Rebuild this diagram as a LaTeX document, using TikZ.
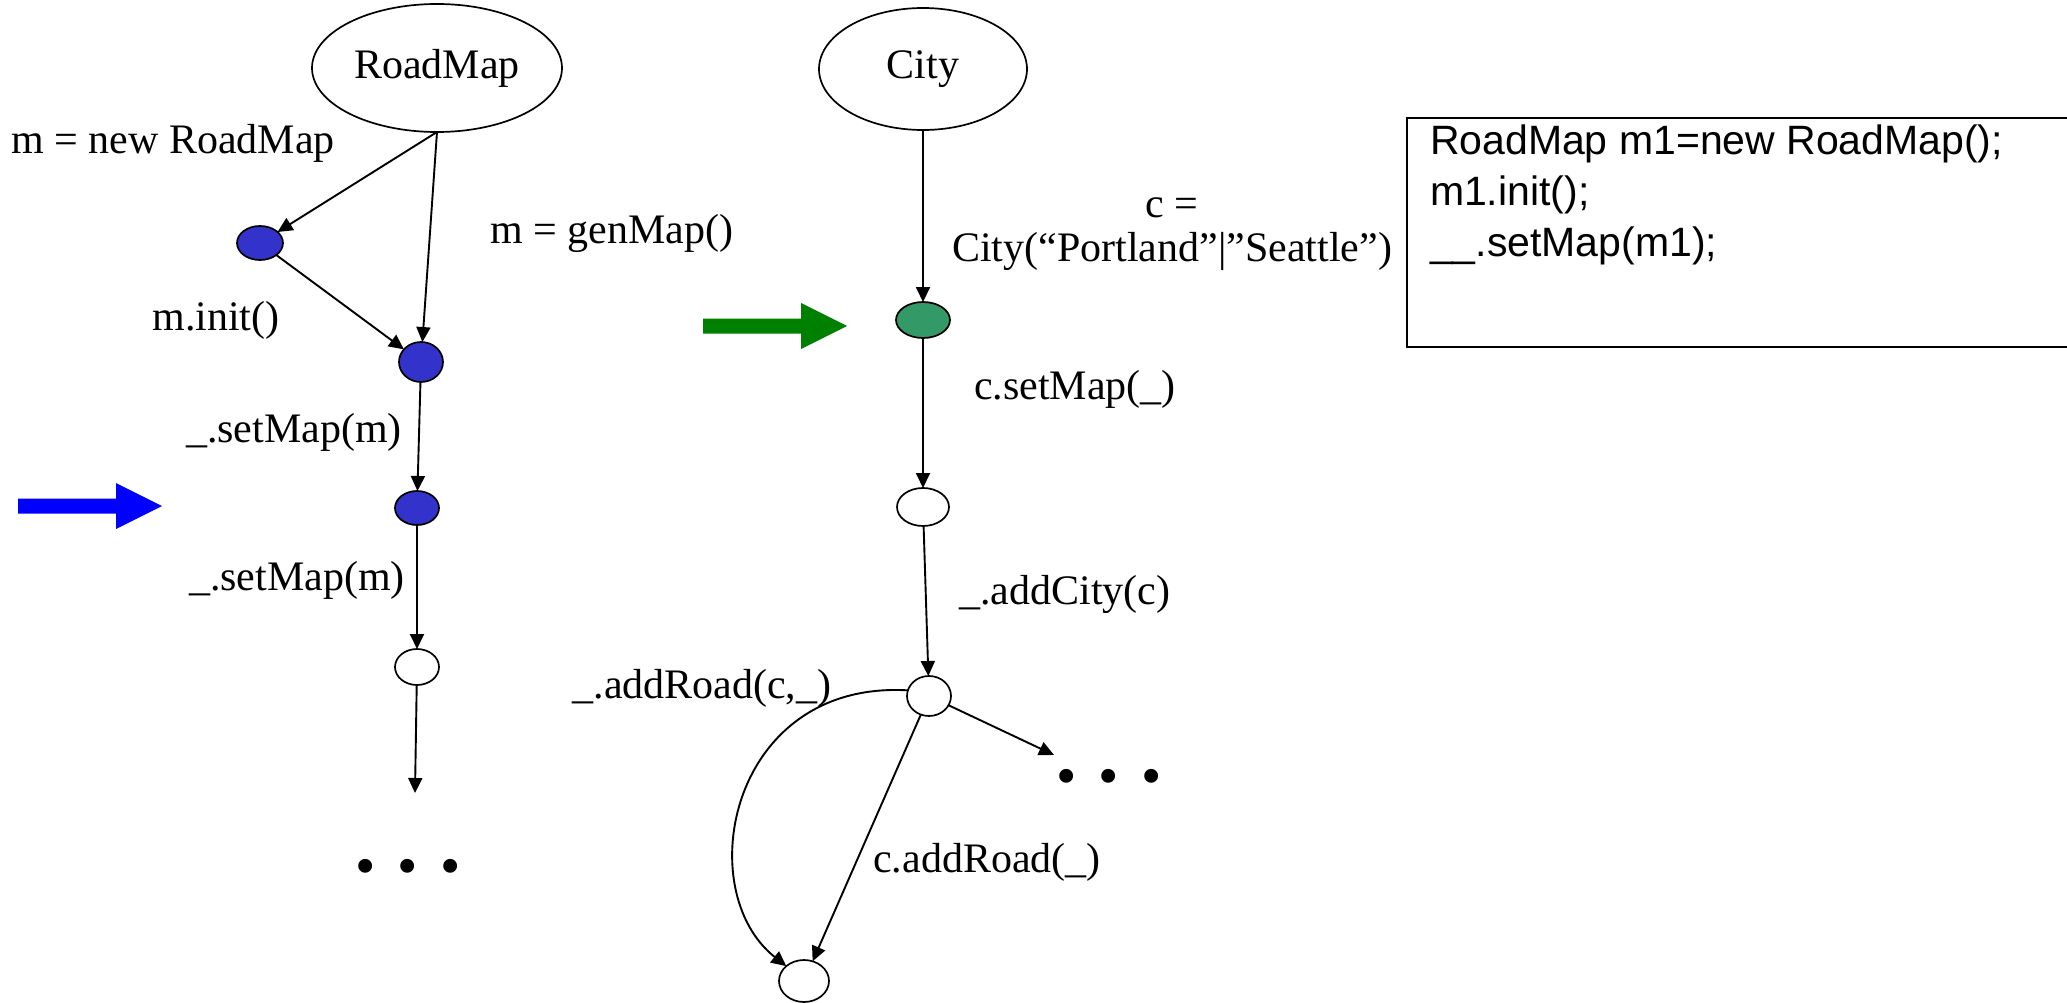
\documentclass[tikz,border=0pt]{standalone}
\usepackage{fontspec}
\setmainfont{Liberation Serif}
\setsansfont{Liberation Sans}
\usetikzlibrary{shapes.geometric,arrows.meta}
\definecolor{nodeblue}{RGB}{51,51,204}
\definecolor{nodegreen}{RGB}{51,153,102}
\definecolor{arrblue}{RGB}{0,0,255}
\definecolor{arrgreen}{RGB}{0,128,0}
\begin{document}
\begin{tikzpicture}[x=1pt,y=-1pt,
  every node/.style={inner sep=0pt, outer sep=0pt},
  lbl/.style={font=\fontsize{42}{45}\selectfont},
  dots/.style={font=\fontsize{58}{60}\selectfont},
  cls/.style={ellipse, draw, line width=1.7pt, font=\fontsize{42}{45}\selectfont},
  st/.style={ellipse, draw, line width=1.7pt},
  edge/.style={line width=1.9pt, -{Triangle[length=15pt,width=14pt]}},
  codebox/.style={draw, line width=1.8pt}
]
\useasboundingbox (0,0) rectangle (2067,1003);
\fill[white] (0,0) rectangle (2067,1003);
% class ellipses
\node[cls, minimum width=250pt, minimum height=128pt] (rm) at (437,68) {\raisebox{-4pt}{RoadMap}};
\node[cls, minimum width=208pt, minimum height=122pt] (city) at (923,69) {\raisebox{-3pt}{City}};
% RoadMap states
\node[st, fill=nodeblue, minimum width=46pt, minimum height=34pt] (n1) at (260,243) {};
\node[st, fill=nodeblue, minimum width=44pt, minimum height=40pt] (n2) at (421,362) {};
\node[st, fill=nodeblue, minimum width=44pt, minimum height=34pt] (n3) at (417,508) {};
\node[st, fill=white, minimum width=44pt, minimum height=36pt] (n4) at (417,667) {};
\coordinate (e4) at (415,793);
% City states
\node[st, fill=nodegreen, minimum width=54pt, minimum height=36pt] (g) at (923,320) {};
\node[st, fill=white, minimum width=52pt, minimum height=38pt] (n6) at (923,507) {};
\node[st, fill=white, minimum width=44pt, minimum height=40pt] (n7) at (929,696) {};
\node[st, fill=white, minimum width=50pt, minimum height=42pt] (n8) at (804,981) {};
\coordinate (e7) at (1054,755);
% edges
\draw[edge] (rm.south) -- (n1);
\draw[edge] (rm.south) -- (n2);
\draw[edge] (n1) -- (n2);
\draw[edge] (n2) -- (n3);
\draw[edge] (n3) -- (n4);
\draw[edge] (n4) -- (e4);
\draw[edge] (city.south) -- (g);
\draw[edge] (g) -- (n6);
\draw[edge] (n6) -- (n7);
\draw[edge] (n7) -- (n8);
\draw[edge] (n7) -- (e7);
\draw[edge] (n7.165) .. controls (730,680) and (690,890) .. (n8.140);
% labels
\node[lbl] (l1) at (173,143) {m = new RoadMap};
\node[lbl] (l2) at (612,233) {m = genMap()};
\node[lbl] (l3) at (216,320) {m.init()};
\node[lbl] (l4) at (294,432) {\_.setMap(m)};
\node[lbl] (l5) at (297,580) {\_.setMap(m)};
\node[lbl, align=center, font=\fontsize{42}{43.5}\selectfont] (l6) at (1172,234) {c =\\City(“Portland”|”Seattle”)};
\node[lbl] (l7) at (1075,389) {c.setMap(\_)};
\node[lbl] (l8) at (1065,594) {\_.addCity(c)};
\node[lbl] (l9) at (702,688) {\_.addRoad(c,\_)};
\node[lbl] (l10) at (987,862) {c.addRoad(\_)};
\node[dots] (d1) at (408,872) {•\hspace{22pt}•\hspace{22pt}•};
\node[dots] (d2) at (1109,782) {•\hspace{22pt}•\hspace{22pt}•};
% block arrows
\fill[arrblue] (18,498.5) -- (116,498.5) -- (116,483) -- (162,506) -- (116,529) -- (116,513.5) -- (18,513.5) -- cycle;
\fill[arrgreen] (703,318.5) -- (801,318.5) -- (801,303) -- (847,326) -- (801,349) -- (801,333.5) -- (703,333.5) -- cycle;
% code box
\draw[codebox] (2100,118) -- (1407,118) -- (1407,347) -- (2100,347);
\node[anchor=north west, align=left, font=\sffamily\fontsize{41}{51}\selectfont] (code) at (1430,125)
  {RoadMap m1=new RoadMap();\\m1.init();\\\_\_.setMap(m1);};
\end{tikzpicture}
\end{document}
